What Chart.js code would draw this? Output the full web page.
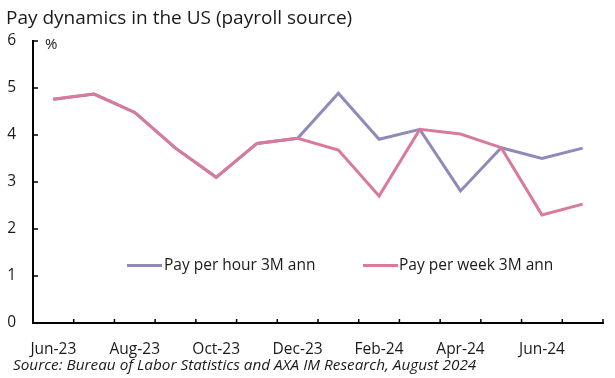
<!DOCTYPE html>
<html>
<head>
<meta charset="utf-8">
<script src="https://cdn.jsdelivr.net/npm/chart.js@4/dist/chart.umd.min.js"></script>
<style>
  html, body { margin: 0; padding: 0; background: #fff; }
  #wrap { position: relative; width: 615px; height: 378px; overflow: hidden; font-family: "Open Sans", sans-serif; color: #1a1a1a; }
  #c { position: absolute; left: 0; top: 0; }
  .txt { position: absolute; white-space: nowrap; line-height: 1; }
  #title { left: 6px; top: 8px; font-size: 19px; }
  #unit { left: 45px; top: 36px; font-size: 15px; }
  #source { left: 13px; top: 357px; font-size: 15.3px; font-style: italic; }
  .lg-line { position: absolute; height: 3px; }
  .lg-text { position: absolute; font-size: 15.5px; line-height: 1; white-space: nowrap; }
</style>
</head>
<body>
<div id="wrap">
  <canvas id="c" width="615" height="378"></canvas>
  <div class="txt" id="title">Pay dynamics in the US (payroll source)</div>
  <div class="txt" id="unit">%</div>
  <div class="txt" id="source">Source: Bureau of Labor Statistics and AXA IM Research, August 2024</div>
</div>
<script>
const categories = ["Jun-23","Jul-23","Aug-23","Sep-23","Oct-23","Nov-23","Dec-23","Jan-24","Feb-24","Mar-24","Apr-24","May-24","Jun-24","Jul-24"];
const payPerHour = [4.76, 4.87, 4.48, 3.72, 3.10, 3.82, 3.93, 4.89, 3.91, 4.12, 2.81, 3.73, 3.50, 3.72];
const payPerWeek = [4.76, 4.87, 4.48, 3.72, 3.10, 3.82, 3.93, 3.68, 2.70, 4.12, 4.02, 3.73, 2.30, 2.53];
const seriesNames = ["Pay per hour 3M ann", "Pay per week 3M ann"];
const seriesColors = ["#8F8AB8", "#D9799C"];
const yTicks = [0, 1, 2, 3, 4, 5, 6];

const innerTicks = {
  id: 'innerTicks',
  afterDraw(chart) {
    const ctx = chart.ctx, x = chart.scales.x, y = chart.scales.y, a = chart.chartArea;
    ctx.save();
    ctx.strokeStyle = '#000';
    ctx.lineWidth = 1.5;
    ctx.beginPath();
    y.ticks.forEach(t => {
      const py = y.getPixelForValue(t.value);
      ctx.moveTo(a.left, py); ctx.lineTo(a.left + 5, py);
    });
    const step = x.getPixelForValue(1) - x.getPixelForValue(0);
    for (let i = 0; i <= categories.length; i++) {
      const px = x.getPixelForValue(i) - step / 2;
      ctx.moveTo(px, a.bottom); ctx.lineTo(px, a.bottom - 4);
    }
    ctx.stroke();
    ctx.restore();
  }
};

const chart = new Chart(document.getElementById('c'), {
  type: 'line',
  data: {
    labels: categories,
    datasets: [
      { label: seriesNames[0], data: payPerHour, borderColor: seriesColors[0], borderWidth: 3, pointRadius: 0, tension: 0, order: 1 },
      { label: seriesNames[1], data: payPerWeek, borderColor: seriesColors[1], borderWidth: 3, pointRadius: 0, tension: 0, order: 0 }
    ]
  },
  options: {
    responsive: false,
    animation: false,
    layout: { padding: { left: 0, right: 12, top: 41, bottom: 0 } },
    plugins: { legend: { display: false }, title: { display: false }, tooltip: { enabled: false } },
    scales: {
      x: {
        type: 'category',
        offset: true,
        grid: { display: false, drawTicks: false },
        border: { display: true, color: '#000', width: 2 },
        ticks: {
          autoSkip: false, maxRotation: 0, padding: 17,
          color: '#1a1a1a', font: { family: 'Open Sans', size: 15.5 },
          callback: function(v, i) { return i % 2 === 0 ? categories[i] : ''; }
        },
        afterFit(s) { s.height = 55; }
      },
      y: {
        min: 0, max: 6,
        afterBuildTicks(s) { s.ticks = yTicks.map(v => ({ value: v })); },
        grid: { display: false, drawTicks: false },
        border: { display: true, color: '#000', width: 2 },
        ticks: { padding: 17, color: '#1a1a1a', font: { family: 'Open Sans', size: 15.5 } },
        afterFit(s) { s.width = 33; }
      }
    }
  },
  plugins: [innerTicks]
});

// HTML legend built from the datasets
const wrap = document.getElementById('wrap');
const legendPos = [{ line: 127, text: 164 }, { line: 363, text: 399 }];
chart.data.datasets.forEach((ds, i) => {
  const l = document.createElement('div');
  l.className = 'lg-line';
  l.style.left = legendPos[i].line + 'px'; l.style.top = '264px'; l.style.width = '35px';
  l.style.background = ds.borderColor;
  wrap.appendChild(l);
  const t = document.createElement('div');
  t.className = 'lg-text';
  t.style.left = legendPos[i].text + 'px'; t.style.top = '257px';
  t.textContent = ds.label;
  wrap.appendChild(t);
});
</script>
</body>
</html>
